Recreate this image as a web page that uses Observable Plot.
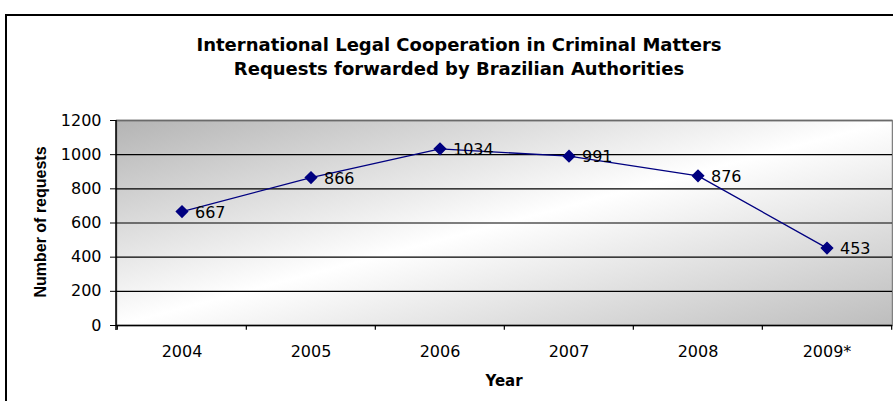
<!DOCTYPE html>
<html>
<head>
<meta charset="utf-8">
<script src="https://cdn.jsdelivr.net/npm/d3@7"></script>
<script src="https://cdn.jsdelivr.net/npm/@observablehq/plot@0.6"></script>
<style>
  html, body { margin: 0; padding: 0; background: #fff; }
  svg { display: block; }
</style>
</head>
<body>
<div id="chart"></div>
<script>
const years = ["2004", "2005", "2006", "2007", "2008", "2009*"];
const requests = [667, 866, 1034, 991, 876, 453];
const yTicks = [0, 200, 400, 600, 800, 1000, 1200];
const titleLines = ["International Legal Cooperation in Criminal Matters", "Requests forwarded by Brazilian Authorities"];
const xLabel = "Year";
const yLabel = "Number of requests";

const data = years.map((y, i) => ({year: y, value: requests[i]}));

const W = 893, H = 401;
const mL = 116, mR = 1, mT = 120, mB = 76;
const bw = (W - mL - mR) / years.length;

const svg = Plot.plot({
  width: W,
  height: H,
  marginLeft: mL,
  marginRight: mR,
  marginTop: mT,
  marginBottom: mB,
  style: {fontFamily: "'DejaVu Sans', sans-serif", fontSize: "16px", color: "#000", background: "transparent"},
  x: {type: "band", domain: years, padding: 0, label: null},
  y: {domain: [0, 1200], label: null},
  marks: [
    Plot.frame({fill: "url(#plotbg)", stroke: "#808080", strokeWidth: 1.5}),
    Plot.ruleY(yTicks.filter(d => d > 0 && d < 1200), {y: d => d, stroke: "#000", strokeWidth: 1.2}),
    Plot.ruleY([1200], {y: d => d, stroke: "#6a6a6a", strokeWidth: 1.5}),
    // category boundary ticks below the axis
    Plot.ruleX(years, {x: d => d, dx: -bw / 2, y1: 0, y2: -28, stroke: "#000", strokeWidth: 1.2}),
    Plot.ruleX(years.slice(-1), {x: d => d, dx: bw / 2, y1: 0, y2: -28, stroke: "#000", strokeWidth: 1.2}),
    Plot.ruleY([0], {stroke: "#000", strokeWidth: 1.5}),
    Plot.axisY({ticks: yTicks, tickFormat: d => String(d), tickSize: 6, tickPadding: 9, stroke: "#000", fill: "#000", fontSize: 16, label: null}),
    Plot.axisX({tickSize: 0, tickPadding: 20, fill: "#000", fontSize: 16, label: null}),
    Plot.line(data, {x: "year", y: "value", stroke: "#000080", strokeWidth: 1.3}),
    Plot.dot(data, {x: "year", y: "value", symbol: "diamond2", r: 5, fill: "#000080", stroke: "#000080"}),
    Plot.text(data, {x: "year", y: "value", text: d => String(d.value), textAnchor: "start", dx: 13, dy: 1, fontSize: 16, fill: "#000"})
  ]
});

const s = d3.select(svg);
// gradient background for plot area
const defs = s.insert("defs", ":first-child");
const g = defs.append("linearGradient").attr("id", "plotbg")
  .attr("x1", "0").attr("y1", "0").attr("x2", "1").attr("y2", "1");
g.append("stop").attr("offset", "0").attr("stop-color", "#b4b4b4");
g.append("stop").attr("offset", "0.5").attr("stop-color", "#ffffff");
g.append("stop").attr("offset", "1").attr("stop-color", "#bdbdbd");

// left axis line extending down
s.append("line").attr("x1", mL).attr("x2", mL).attr("y1", mT).attr("y2", H - mB + 5)
  .attr("stroke", "#000").attr("stroke-width", 1.5);

// outer border
s.append("rect").attr("x", 6).attr("y", 15).attr("width", 920).attr("height", 420)
  .attr("fill", "none").attr("stroke", "#000").attr("stroke-width", 2);

// title
titleLines.forEach((t, i) => {
  s.append("text").attr("x", 459).attr("y", 51 + i * 24)
    .attr("text-anchor", "middle")
    .attr("font-family", "'DejaVu Sans', sans-serif")
    .attr("font-weight", "bold").attr("font-size", 18).attr("fill", "#000")
    .text(t);
});

// axis titles
s.append("text").attr("x", 504).attr("y", 386)
  .attr("text-anchor", "middle")
  .attr("font-family", "'DejaVu Sans', sans-serif")
  .attr("font-weight", "bold").attr("font-size", 15).attr("fill", "#000")
  .text(xLabel);

s.append("text").attr("transform", "translate(46,222) rotate(-90)")
  .attr("text-anchor", "middle")
  .attr("font-family", "'Liberation Sans', Arial, sans-serif")
  .attr("font-weight", "bold").attr("font-size", 16).attr("fill", "#000")
  .text(yLabel);

document.getElementById("chart").appendChild(svg);
</script>
</body>
</html>
